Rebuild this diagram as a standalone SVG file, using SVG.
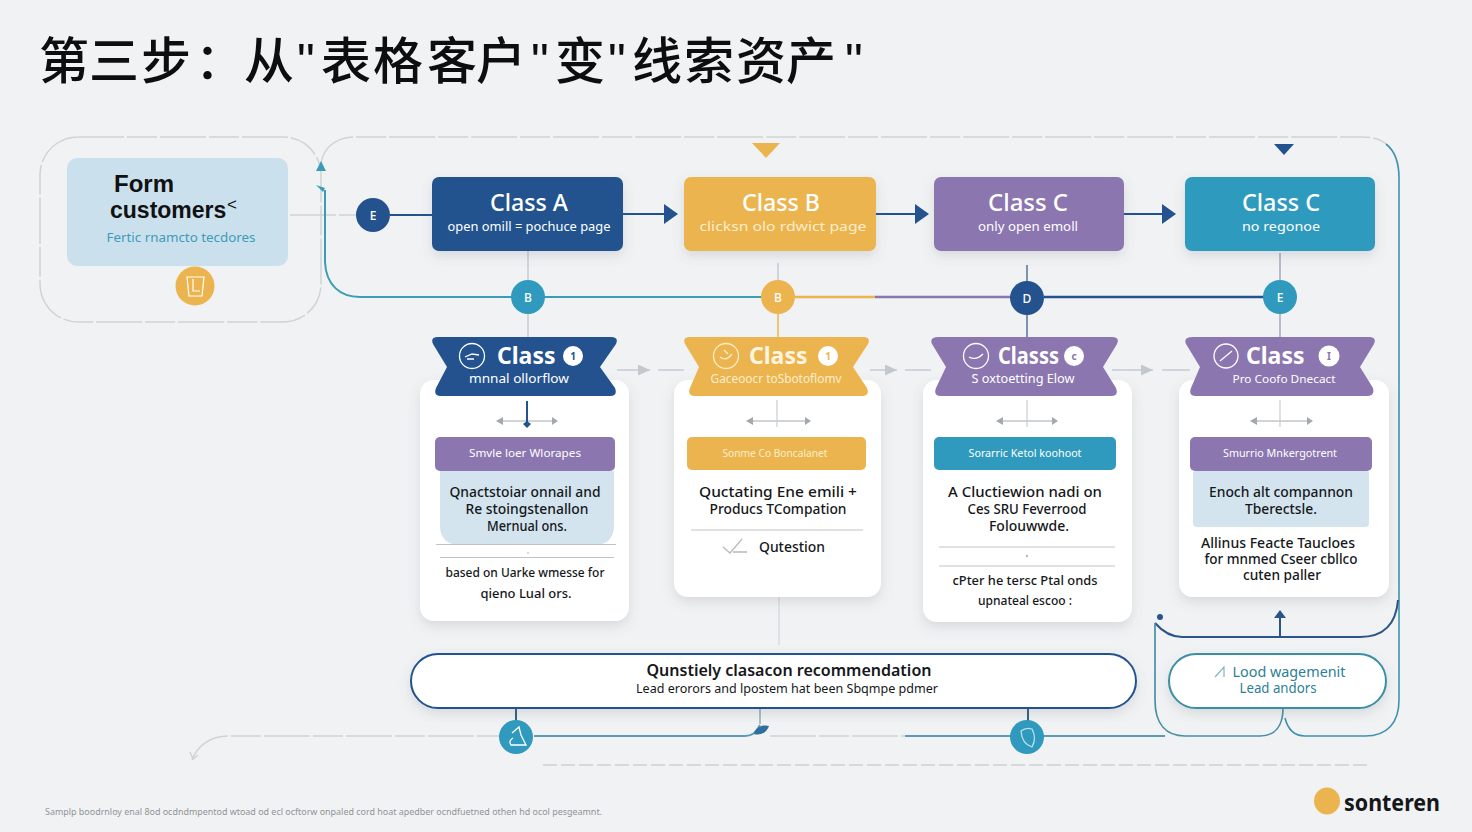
<svg xmlns="http://www.w3.org/2000/svg" width="1472" height="832" viewBox="0 0 1472 832">
<style>
text{font-family:"Noto Sans","Liberation Sans","Noto Sans CJK SC",sans-serif}
.m{text-anchor:middle}
.w{fill:#fff}
.t1{font-size:24px;font-weight:500;fill:#fff;text-anchor:middle}
.t2{font-size:13px;fill:#fff;text-anchor:middle}
.b1{font-size:23px;font-weight:700;fill:#fff}
.b2{font-size:12px;fill:#fff;text-anchor:middle}
.bar{font-size:10.5px;fill:#fff;text-anchor:middle}
.c{font-size:13.5px;font-weight:500;fill:#15171a;text-anchor:middle}
.c2{font-size:12.5px;font-weight:500;fill:#15171a;text-anchor:middle}
.n{font-size:12px;font-weight:500;text-anchor:middle;fill:#fff}
.card{fill:#fff;filter:url(#sh)}
.box{filter:url(#sh)}
.navy{fill:#23528f}.yel{fill:#ebb44f}.pur{fill:#8b76b0}.teal{fill:#2f9abd}.pale{fill:#d3e4ef}
.l{fill:none;stroke-width:2}
.dash{fill:none;stroke:#d0d3d5;stroke-width:1.5;stroke-dasharray:46 3 30 3}
.thin{fill:none;stroke:#c3cbd2;stroke-width:1.5}
.rule{stroke:#bfc3c6;stroke-width:1.2}
.ico{fill:none;stroke:#fff;stroke-width:1.3}
.sm{fill:none;stroke:#a3a9af;stroke-width:1.2}
.smh{fill:#a3a9af}
.form{font-family:"Liberation Sans",Arial,sans-serif;font-weight:700;fill:#111}
</style>
<defs>
<filter id="sh" x="-15%" y="-15%" width="130%" height="140%"><feDropShadow dx="0" dy="5" stdDeviation="6" flood-color="#5a6b7c" flood-opacity="0.18"/></filter>
<marker id="ah" viewBox="0 0 14 20" refX="13" refY="10" markerWidth="14" markerHeight="20" markerUnits="userSpaceOnUse" orient="auto"><path d="M0,0 L14,10 L0,20Z" fill="#23528f"/></marker>
<marker id="gh" viewBox="0 0 12 11" refX="12" refY="5.5" markerWidth="12" markerHeight="11" markerUnits="userSpaceOnUse" orient="auto"><path d="M0,0 L12,5.500 L0,11Z" fill="#c3c8cc"/></marker>
</defs>
<rect width="1472" height="832" fill="#f1f2f3"/>
<text id="title" x="39 89 141 195 244 297 321 373 427 476 531 555 608 632 684 736 786 845" y="78.5" font-size="50" fill="#0d0e10" style="font-family:'Liberation Sans','Noto Sans CJK SC',sans-serif;font-weight:500">第三步：从"表格客户"变"线索资产"</text>

<g id="connectors">
<rect x="40" y="137" width="281" height="185" rx="38" class="dash"/>
<path class="dash" d="M321,164 C323,148 335,137 356,137 H1362 C1372,137 1380,139 1386,144"/>
<path d="M290,215 H356" class="dash"/>
<path d="M390,215 H432" class="l" stroke="#23528f"/>
<path d="M623,214 H677" class="l" stroke="#23528f" marker-end="url(#ah)"/>
<path d="M876,214 H928" class="l" stroke="#23528f" marker-end="url(#ah)"/>
<path d="M1124,214 H1175" class="l" stroke="#23528f" marker-end="url(#ah)"/>
<path d="M325,190 V262 C326,285 340,297 360,297 H762" class="l" stroke="#3b9db5"/>
<path d="M795,297 H875" class="l" stroke="#ebb44f" style="stroke-width:2.500px"/>
<path d="M875,297 H1012" class="l" stroke="#8b76b0" style="stroke-width:2.500px"/>
<path d="M1044,297 H1264" class="l" stroke="#23528f" style="stroke-width:2.500px"/>
<path d="M528,250 V337" class="thin"/>
<path d="M778,263 V280" class="thin"/><path d="M778,314 V337" stroke="#ebb44f" stroke-width="1.5"/>
<path d="M1027,265 V337" stroke="#5b6f97" stroke-width="1.5"/>
<path d="M1280,253 V337" stroke="#9fa8bf" stroke-width="1.5"/>
<path d="M617,370 H650" class="thin" marker-end="url(#gh)"/><path d="M658,370 H684" class="thin"/>
<path d="M870,370 H897" class="thin" marker-end="url(#gh)"/><path d="M905,370 H931" class="thin"/>
<path d="M1112,370 H1153" class="thin" marker-end="url(#gh)"/><path d="M1162,370 H1190" class="thin"/>
<path d="M779,597 V645" stroke="#d5d8db" stroke-width="1.3"/>
<path d="M1386,144 C1395,151 1399,162 1399,178 V700 C1399,722 1388,736 1365,736 H1305 C1295,736 1288,730 1285,718" class="l" stroke="#3f93ad" style="stroke-width:1.600px"/>
<path d="M1398,600 C1396,625 1383,637 1360,637 H1182 C1170,637 1162,631 1155,623" class="l" stroke="#2a5586" style="stroke-width:2px"/>
<path d="M1155,623 V700 C1155,724 1166,736 1185,736 H1260 C1275,736 1283,726 1283,708" class="l" stroke="#4a8fa6" style="stroke-width:1.700px"/>
<path d="M1280,637 V617" class="l" stroke="#2a5586"/>
<path d="M1280,610 L1286,618 H1274Z" fill="#2a5586"/>
<circle cx="1160" cy="617" r="3" fill="#2a5586"/>
<path d="M534,736 H745 C752,736 756,733 760,725" class="l" stroke="#5b9cb5"/>
<path d="M905,736 H1165" class="l" stroke="#5b9cb5"/>
<path d="M192,760 C197,746 210,736 228,736 H500" class="dash"/>
<path d="M190,752 L193,759 L198,755" fill="none" stroke="#d0d3d5" stroke-width="1.500"/>
<path d="M770,736 H905" class="dash"/>
<path d="M543,765 H1368" fill="none" stroke="#cdd1d3" stroke-width="1.5" stroke-dasharray="14 4"/>
<path d="M516,708 V722" class="l" stroke="#2f6088"/>
<path d="M760,708 V724" stroke="#8d9bab" stroke-width="1.3"/>
<path d="M1028,708 V722" class="l" stroke="#2f6088"/>
<path d="M321,161 L326,171 H316Z" fill="#3b9db5"/>
<path d="M316,185 L325,188 L323,192Z" fill="#3b9db5"/>
<path d="M752,143 H780 L766,158Z" fill="#ebb44f"/>
<path d="M1274,144 H1294 L1284,155Z" fill="#23528f"/>
<path d="M754,734 C755,728 762,724 769,726 C767,732 761,736 754,734Z" fill="#2f6f9e"/>
</g>

<g id="form-customers">
<rect x="67" y="158" width="221" height="108" rx="10" fill="#cbe0ed"/>
<text x="114" y="191.500" font-size="24" class="form">Form</text>
<text x="110" y="217.500" font-size="23" class="form">customers</text>
<text x="227" y="210" font-size="17" fill="#111" style="font-family:'Liberation Sans',sans-serif">&lt;</text>
<text x="181" y="242" font-size="13" fill="#3d9cb8" class="m" lengthAdjust="spacingAndGlyphs" textLength="149">Fertic rnamcto tecdores</text>
<circle cx="195" cy="286" r="19.5" class="yel"/>
<path d="M187,277 H204 L202,296 H189Z M193,279 V291 H200" fill="none" stroke="#fff" stroke-width="1.2"/>
</g>
<g id="node-e-left"><circle cx="373" cy="215" r="17" class="navy"/><text x="373" y="220" class="n">E</text></g>

<g id="class-a"><rect x="432" y="177" width="191" height="74" rx="7" class="navy box"/><text x="529" y="211" class="t1" lengthAdjust="spacingAndGlyphs" textLength="78">Class A</text><text x="529" y="231" class="t2" lengthAdjust="spacingAndGlyphs" textLength="163">open omill = pochuce page</text></g>
<g id="class-b"><rect x="684" y="177" width="192" height="74" rx="7" class="yel box"/><text x="781" y="211" class="t1" lengthAdjust="spacingAndGlyphs" textLength="78">Class B</text><text x="783" y="231" class="t2" lengthAdjust="spacingAndGlyphs" textLength="167" style="fill:#fbeecb">clicksn  olo rdwict page</text></g>
<g id="class-c"><rect x="934" y="177" width="190" height="74" rx="7" class="pur box"/><text x="1028" y="211" class="t1" lengthAdjust="spacingAndGlyphs" textLength="80">Class C</text><text x="1028" y="231" class="t2" lengthAdjust="spacingAndGlyphs" textLength="100">only open emoll</text></g>
<g id="class-d"><rect x="1185" y="177" width="190" height="74" rx="7" class="teal box"/><text x="1281" y="211" class="t1" lengthAdjust="spacingAndGlyphs" textLength="78">Class C</text><text x="1281" y="231" class="t2" lengthAdjust="spacingAndGlyphs" textLength="78">no regonoe</text></g>

<g id="node-b1"><circle cx="528" cy="297" r="17" class="teal"/><text x="528" y="302" class="n">B</text></g>
<g id="node-b2"><circle cx="778" cy="297" r="17" class="yel"/><text x="778" y="302" class="n">B</text></g>
<g id="node-d"><circle cx="1027" cy="298" r="17" class="navy"/><text x="1027" y="303" class="n">D</text></g>
<g id="node-e"><circle cx="1280" cy="297" r="17" class="teal"/><text x="1280" y="302" class="n">E</text></g>

<g id="card-1">
<rect x="420" y="380" width="209" height="241" rx="14" class="card"/>
<path class="navy" d="M438,337 H611 Q619,337 616,344 L600,367 L615,388 Q618,396 610,396 H441 Q433,396 436,388 L447,367 L433,344 Q430,337 438,337Z"/>
<circle cx="472" cy="356" r="12.5" class="ico"/><path d="M465,357 L472,354 L479,355 M467,359 H474" class="ico"/>
<text x="497" y="364" class="b1">Class</text><circle cx="573" cy="356" r="10" class="w"/><text x="573" y="360" font-size="10" font-weight="700" fill="#23528f" class="m">1</text>
<text x="519" y="383" class="b2" lengthAdjust="spacingAndGlyphs" textLength="100">mnnal ollorflow</text>
<path d="M497,421 H555" class="sm"/><path d="M496,421 L503,417 V425Z M558,421 L552,417 V425Z" class="smh"/>
<path d="M527,401 V426" stroke="#23528f" stroke-width="2"/><path d="M527,421 L531,424 L527,428 L523,424Z" class="navy"/>
<path class="pale" d="M440,471 H614 V525 Q614,545 594,545 H460 Q440,545 440,525Z"/>
<rect x="435" y="437" width="180" height="34" rx="5" class="pur"/>
<text x="525" y="457" class="bar" lengthAdjust="spacingAndGlyphs" textLength="112">Smvle loer Wlorapes</text>
<text x="525" y="497" class="c" lengthAdjust="spacingAndGlyphs" textLength="151">Qnactstoiar onnail and</text>
<text x="527" y="514" class="c" lengthAdjust="spacingAndGlyphs" textLength="123">Re stoingstenallon</text>
<text x="527" y="531" class="c" lengthAdjust="spacingAndGlyphs" textLength="80">Mernual ons.</text>
<path d="M436,544.500 H616 M440,557.500 H614" class="rule"/><circle cx="528" cy="553" r="1" fill="#c9ced2"/>
<text x="525" y="577" class="c2" lengthAdjust="spacingAndGlyphs" textLength="159">based on Uarke wmesse for</text>
<text x="526" y="598" class="c2" lengthAdjust="spacingAndGlyphs" textLength="91">qieno Lual ors.</text>
</g>

<g id="card-2">
<rect x="674" y="380" width="207" height="217" rx="14" class="card"/>
<path class="yel" d="M690,337 H863 Q871,337 868,344 L853,367 L867,388 Q870,396 862,396 H695 Q687,396 690,388 L699,367 L685,344 Q682,337 690,337Z"/>
<circle cx="726" cy="356" r="12.5" class="ico" style="stroke:#fbeecb"/><path d="M720,357 Q726,362 732,354 M724,350 L728,354" class="ico" style="stroke:#fbeecb"/>
<text x="749" y="364" class="b1" style="fill:#fdf5e0">Class</text><circle cx="828" cy="356" r="10" class="w"/><text x="828" y="360" font-size="10" font-weight="700" fill="#ebb44f" class="m">1</text>
<text x="776" y="383" class="b2" lengthAdjust="spacingAndGlyphs" textLength="131" style="fill:#fbeecb">Gaceoocr toSbotoflomv</text>
<path d="M747,421 H809" class="sm"/><path d="M746,421 L753,417 V425Z M811,421 L805,417 V425Z" class="smh"/>
<path d="M777,400 V427" stroke="#c9ced2" stroke-width="1.2"/>
<rect x="687" y="437" width="179" height="33" rx="5" class="yel"/>
<text x="775" y="457" class="bar" lengthAdjust="spacingAndGlyphs" textLength="105" style="fill:#fbeecb">Sonme Co Boncalanet</text>
<text x="778" y="497" class="c" lengthAdjust="spacingAndGlyphs" textLength="158">Quctating Ene emili +</text>
<text x="778" y="514" class="c" lengthAdjust="spacingAndGlyphs" textLength="137">Producs TCompation</text>
<path d="M691,530 H863" class="rule"/>
<path d="M723,547 L730,553 L742,539 M733,552 H747" fill="none" stroke="#b6bbbf" stroke-width="1.3"/>
<text x="792" y="552" class="c" lengthAdjust="spacingAndGlyphs" textLength="66">Qutestion</text>
</g>

<g id="card-3">
<rect x="923" y="380" width="209" height="242" rx="14" class="card"/>
<path class="pur" d="M939,337 H1112 Q1120,337 1117,344 L1103,367 L1116,388 Q1119,396 1111,396 H941 Q933,396 936,388 L946,367 L932,344 Q929,337 939,337Z"/>
<circle cx="976" cy="356" r="12.5" class="ico"/><path d="M969,357 Q976,361 983,354" class="ico"/>
<text x="998" y="364" class="b1" lengthAdjust="spacingAndGlyphs" textLength="61">Classs</text><circle cx="1074" cy="356" r="10" class="w"/><text x="1074" y="360" font-size="10" font-weight="700" fill="#8b76b0" class="m">c</text>
<text x="1023" y="383" class="b2" lengthAdjust="spacingAndGlyphs" textLength="103">S  oxtoetting Elow</text>
<path d="M997,421 H1057" class="sm"/><path d="M996,421 L1003,417 V425Z M1058,421 L1052,417 V425Z" class="smh"/>
<path d="M1027,400 V427" stroke="#c9ced2" stroke-width="1.2"/>
<rect x="934" y="437" width="182" height="33" rx="5" class="teal"/>
<text x="1025" y="457" class="bar" lengthAdjust="spacingAndGlyphs" textLength="113">Sorarric  Ketol koohoot</text>
<text x="1025" y="497" class="c" lengthAdjust="spacingAndGlyphs" textLength="154">A Cluctiewion nadi  on</text>
<text x="1027" y="514" class="c" lengthAdjust="spacingAndGlyphs" textLength="119">Ces SRU Feverrood</text>
<text x="1029" y="531" class="c" lengthAdjust="spacingAndGlyphs" textLength="80">Folouwwde.</text>
<path d="M939,547 H1115 M939,566 H1115" class="rule"/><circle cx="1027" cy="556" r="1.200" fill="#b6bbbf"/>
<text x="1025" y="585" class="c2" lengthAdjust="spacingAndGlyphs" textLength="145">cPter he tersc Ptal onds</text>
<text x="1025" y="605" class="c2" lengthAdjust="spacingAndGlyphs" textLength="94">upnateal escoo :</text>
</g>

<g id="card-4">
<rect x="1179" y="380" width="210" height="217" rx="14" class="card"/>
<path class="pur" d="M1193,337 H1369 Q1377,337 1374,344 L1360,367 L1373,388 Q1375,396 1367,396 H1196 Q1188,396 1191,388 L1200,367 L1186,344 Q1183,337 1193,337Z"/>
<circle cx="1226" cy="356" r="12" class="ico"/><path d="M1220,361 L1232,351" class="ico"/>
<text x="1246" y="364" class="b1">Class</text><circle cx="1329" cy="356" r="10.500" class="w"/><text x="1329" y="360" font-size="10" font-weight="700" fill="#8b76b0" class="m">I</text>
<text x="1284" y="383" class="b2" style="font-size:11.500px" lengthAdjust="spacingAndGlyphs" textLength="103">Pro Coofo Dnecact</text>
<path d="M1251,421 H1310" class="sm"/><path d="M1250,421 L1257,417 V425Z M1313,421 L1307,417 V425Z" class="smh"/>
<path d="M1280,400 V427" stroke="#c9ced2" stroke-width="1.2"/>
<rect class="pale" x="1193" y="470" width="176" height="57" rx="4"/>
<rect x="1190" y="437" width="182" height="34" rx="5" class="pur"/>
<text x="1280" y="457" class="bar" lengthAdjust="spacingAndGlyphs" textLength="114">Smurrio Mnkergotrent</text>
<text x="1281" y="497" class="c" lengthAdjust="spacingAndGlyphs" textLength="144">Enoch alt compannon</text>
<text x="1281" y="514" class="c" lengthAdjust="spacingAndGlyphs" textLength="72">Tberectsle.</text>
<text x="1278" y="548" class="c" lengthAdjust="spacingAndGlyphs" textLength="154">Allinus Feacte Taucloes</text>
<text x="1281" y="564" class="c" lengthAdjust="spacingAndGlyphs" textLength="153">for mnmed Cseer cbllco</text>
<text x="1282" y="580" class="c" lengthAdjust="spacingAndGlyphs" textLength="78">cuten paller</text>
</g>

<g id="recommendation">
<rect x="411" y="654" width="725" height="54" rx="27" fill="#fff" stroke="#23528f" stroke-width="2" class="box"/>
<text x="789" y="676" font-size="16" font-weight="600" fill="#15171a" class="m" lengthAdjust="spacingAndGlyphs" textLength="285">Qunstiely clasacon recommendation</text>
<text x="787" y="693" font-size="12.500" fill="#15171a" class="m" lengthAdjust="spacingAndGlyphs" textLength="302">Lead erorors and lpostem hat been Sbqmpe pdmer</text>
</g>
<g id="lead-management">
<rect x="1169" y="654" width="217" height="54" rx="27" fill="#fff" stroke="#3b8fa5" stroke-width="2" class="box"/>
<path d="M1215,677 L1224,667 V677" fill="none" stroke="#7fb5c0" stroke-width="1.2"/>
<text x="1289" y="677" font-size="14" fill="#2d7f94" class="m" lengthAdjust="spacingAndGlyphs" textLength="113">Lood wagemenit</text>
<text x="1278" y="693" font-size="13.500" fill="#2d7f94" class="m" lengthAdjust="spacingAndGlyphs" textLength="77">Lead andors</text>
</g>
<g id="node-f"><circle cx="516" cy="737" r="17" class="teal"/><path d="M512,733 L519,727 L521,735 L526,745 H511 Q508,741 513,738" class="ico"/></g>
<g id="node-g"><circle cx="1027" cy="737" r="17" class="teal"/><path d="M1021,731 Q1022,744 1032,747 Q1037,738 1032,729 Q1026,727 1021,731Z" class="ico" style="stroke:#bfe0ea"/></g>

<text id="footnote" x="45" y="815" font-size="9.500" fill="#8f9498" lengthAdjust="spacingAndGlyphs" textLength="557">Samplp boodrnloy enal 8od ocdndmpentod wtoad od ecl ocftorw onpaled cord hoat apedber ocndfuetned othen hd ocol pesgeamnt.</text>
<g id="logo"><ellipse cx="1327" cy="801" rx="13" ry="13.500" class="yel"/><text x="1344" y="811" font-size="22.500" font-weight="700" fill="#15171a" lengthAdjust="spacingAndGlyphs" textLength="96">sonteren</text></g>
</svg>
